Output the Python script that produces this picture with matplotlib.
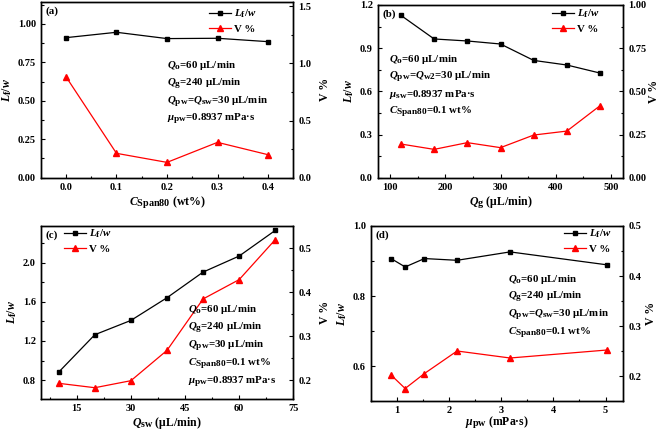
import matplotlib
matplotlib.use("Agg")
import matplotlib.pyplot as plt
from matplotlib.ticker import MultipleLocator, FormatStrFormatter
import matplotlib._mathtext as _mt

_mt.SHRINK_FACTOR = 0.86

plt.rcParams['font.family'] = ['Liberation Serif', 'DejaVu Serif']
plt.rcParams['font.weight'] = 'bold'
plt.rcParams['mathtext.fontset'] = 'custom'
plt.rcParams['mathtext.rm'] = 'Liberation Serif:bold'
plt.rcParams['mathtext.it'] = 'Liberation Serif:bold:italic'
plt.rcParams['mathtext.bf'] = 'Liberation Serif:bold'
plt.rcParams['axes.linewidth'] = 1.0

# ---- data ----
# (a)
a_x = [0.0, 0.1, 0.2, 0.3, 0.4]
a_lf = [0.911, 0.946, 0.905, 0.907, 0.885]
a_v = [0.883, 0.213, 0.134, 0.309, 0.201]
# (b)
b_x = [120, 180, 240, 300, 360, 420, 480]
b_lf = [1.128, 0.964, 0.950, 0.929, 0.815, 0.783, 0.727]
b_v = [0.195, 0.164, 0.203, 0.174, 0.247, 0.270, 0.417]
# (c)
c_x = [10, 20, 30, 40, 50, 60, 70]
c_lf = [0.882, 1.264, 1.410, 1.642, 1.904, 2.068, 2.330]
c_v = [0.193, 0.183, 0.199, 0.268, 0.385, 0.429, 0.520]
# (d)
d_x = [0.89, 1.16, 1.53, 2.155, 3.17, 5.03]
d_lf = [0.907, 0.883, 0.907, 0.902, 0.926, 0.889]
d_v = [0.202, 0.175, 0.205, 0.250, 0.236, 0.252]

W, H = 661, 433
fig = plt.figure(figsize=(W / 100, H / 100), dpi=100)

def px_axes(l, r, t, b):
    return fig.add_axes([l / W, 1 - b / H, (r - l) / W, (b - t) / H])

FS_TICK = 7.5
FS_LAB = 8.5
FS_TXT = 7.8

def style(ax):
    ax.tick_params(which='both', direction='in', labelsize=FS_TICK)
    ax.tick_params(which='major', length=3, width=0.8)
    ax.tick_params(which='minor', length=1.8, width=0.8)
    for lab in ax.get_xticklabels() + ax.get_yticklabels():
        lab.set_fontweight('bold')

def panel(rect, x, lf, v, xlim, ylim1, ylim2, xmaj, xmin, y1maj, y1min, y1fmt,
          y2maj, y2min, y2fmt, xfmt, xlabel, letter, texts, tx, ty0, dy, legpos,
          xlabpad=2, rlabpad=3):
    ax = px_axes(*rect)
    ax2 = ax.twinx()
    l1, = ax.plot(x, lf, color='black', lw=0.9, marker='s', ms=3.3)
    l2, = ax2.plot(x, v, color='red', lw=0.9, marker='^', ms=4.0)
    ax.set_xlim(*xlim)
    ax.set_ylim(*ylim1)
    ax2.set_ylim(*ylim2)
    ax.xaxis.set_major_locator(MultipleLocator(xmaj))
    ax.xaxis.set_minor_locator(MultipleLocator(xmin))
    ax.xaxis.set_major_formatter(FormatStrFormatter(xfmt))
    ax.yaxis.set_major_locator(MultipleLocator(y1maj))
    ax.yaxis.set_minor_locator(MultipleLocator(y1min))
    ax.yaxis.set_major_formatter(FormatStrFormatter(y1fmt))
    ax2.yaxis.set_major_locator(MultipleLocator(y2maj))
    ax2.yaxis.set_minor_locator(MultipleLocator(y2min))
    ax2.yaxis.set_major_formatter(FormatStrFormatter(y2fmt))
    style(ax)
    style(ax2)
    ax.set_xlabel(xlabel, fontsize=FS_LAB, fontweight='bold', labelpad=xlabpad)
    ax.set_ylabel(r'$L_{\mathrm{f}}/w$', fontsize=FS_LAB, labelpad=3)
    ax2.set_ylabel('V %', fontsize=FS_LAB, fontweight='bold', rotation=90, labelpad=rlabpad)
    ax.text(0.018, 0.975, letter, transform=ax.transAxes, ha='left', va='top',
            fontsize=FS_TXT, fontweight='bold')
    for i, t in enumerate(texts):
        fig.text(tx / W, 1 - (ty0 + i * dy) / H, t, ha='left', va='center',
                 fontsize=FS_TXT, fontweight='bold')
    leg = ax.legend([l1, l2], [r'$L_{\mathrm{f}}/w$', 'V %'], loc='upper left',
                    bbox_to_anchor=legpos, bbox_transform=fig.transFigure,
                    frameon=False, fontsize=FS_TXT, handlelength=2.0,
                    handletextpad=0.3, labelspacing=0.35, borderpad=0, borderaxespad=0)
    for t in leg.get_texts():
        t.set_fontweight('bold')
    return ax, ax2

# (a)
panel((40.7, 293.3, 2, 177.7), a_x, a_lf, a_v, (-0.05, 0.45), (0, 1.143), (0, 1.536),
      0.1, 0.05, 0.25, 0.125, '%.2f', 0.5, 0.25, '%.1f', '%.1f',
      r'$C_{\mathrm{Span80}}$ (wt%)', '(a)',
      [r'$Q_{\mathrm{o}}$=60 μL/min', r'$Q_{\mathrm{g}}$=240 μL/min',
       r'$Q_{\mathrm{pw}}$=$Q_{\mathrm{sw}}$=30 μL/min',
       r'$\mu_{\mathrm{pw}}$=0.8937 mPa·s'],
      167, 66, 17.7, (209 / W, 1 - 8 / H), rlabpad=6)

# (b)
panel((377.7, 623.3, 5, 177.7), b_x, b_lf, b_v, (78, 522), (0, 1.2), (0, 1.0),
      100, 50, 0.3, 0.15, '%.1f', 0.25, 0.125, '%.2f', '%d',
      r'$Q_{\mathrm{g}}$ (μL/min)', '(b)',
      [r'$Q_{\mathrm{o}}$=60 μL/min',
       r'$Q_{\mathrm{pw}}$=$Q_{\mathrm{w2}}$=30 μL/min',
       r'$\mu_{\mathrm{sw}}$=0.8937 mPa·s',
       r'$C_{\mathrm{Span80}}$=0.1 wt%'],
      389, 59, 17.7, (552 / W, 1 - 8 / H), rlabpad=1)

# (c)
panel((40.7, 293.3, 226, 398.7), c_x, c_lf, c_v, (5, 75), (0.61, 2.375), (0.158, 0.551),
      15, 7.5, 0.4, 0.2, '%.1f', 0.1, 0.05, '%.1f', '%d',
      r'$Q_{\mathrm{sw}}$ (μL/min)', '(c)',
      [r'$Q_{\mathrm{o}}$=60 μL/min', r'$Q_{\mathrm{g}}$=240 μL/min',
       r'$Q_{\mathrm{pw}}$=30 μL/min', r'$C_{\mathrm{Span80}}$=0.1 wt%',
       r'$\mu_{\mathrm{pw}}$=0.8937 mPa·s'],
      188, 310, 17.8, (64 / W, 1 - 228 / H), rlabpad=6)

# (d)
panel((370.7, 623.3, 226, 401), d_x, d_lf, d_v, (0.5, 5.34), (0.5, 1.0), (0.15, 0.5),
      1, 0.5, 0.2, 0.1, '%.1f', 0.1, 0.05, '%.1f', '%d',
      r'$\mu_{\mathrm{pw}}$ (mPa·s)', '(d)',
      [r'$Q_{\mathrm{o}}$=60 μL/min', r'$Q_{\mathrm{g}}$=240 μL/min',
       r'$Q_{\mathrm{pw}}$=$Q_{\mathrm{sw}}$=30 μL/min',
       r'$C_{\mathrm{Span80}}$=0.1 wt%'],
      508, 279, 17.9, (564 / W, 1 - 228 / H), xlabpad=0, rlabpad=3)

fig.savefig('out.png', dpi=100)
